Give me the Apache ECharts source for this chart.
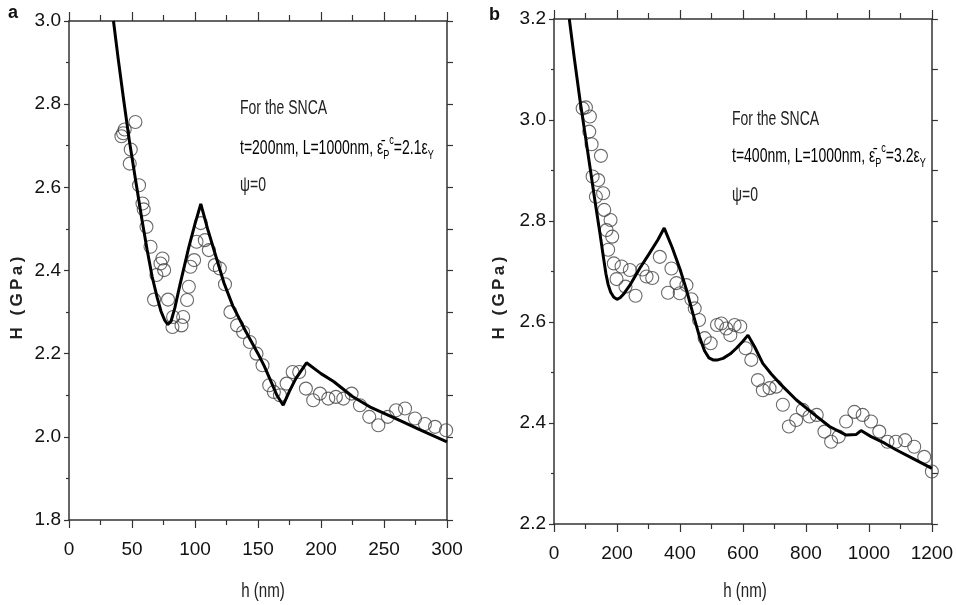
<!DOCTYPE html>
<html><head><meta charset="utf-8">
<script src="https://cdn.jsdelivr.net/npm/echarts@6/dist/echarts.min.js"></script>
<style>html,body{margin:0;padding:0;background:#fff}#c{width:956px;height:605px}</style>
</head><body><div id="c"></div>
<script>
// Panel a: model curve and measured points (h in nm, H in GPa)
const curveA = [[35.3,3.0],[39,2.91],[43.4,2.81],[48,2.71],[53.5,2.605],[58,2.52],[62,2.45],[66,2.385],[70,2.335],[73,2.302],[76,2.28],[78.5,2.27],[81,2.278],[84,2.31],[88,2.365],[95,2.455],[100,2.512],[104.6,2.56],[110,2.50],[115,2.45],[120,2.40],[123,2.37],[130,2.315],[140,2.255],[150,2.20],[155,2.17],[160,2.135],[165,2.10],[170,2.076],[175,2.11],[180,2.14],[188.5,2.178],[200,2.152],[210,2.133],[225,2.097],[240,2.07],[262,2.04],[280,2.015],[300,1.988]];
const pointsA = [[41.6,2.723],[44.2,2.739],[43,2.73],[52.7,2.757],[49,2.691],[48.2,2.657],[55.6,2.605],[58.3,2.561],[59.3,2.547],[61.5,2.505],[64.7,2.457],[74.2,2.429],[72.6,2.417],[69.4,2.389],[75.5,2.401],[67.5,2.33],[78.6,2.33],[82.6,2.288],[82.1,2.264],[89.3,2.268],[90.6,2.288],[93.7,2.329],[95.1,2.361],[96.4,2.409],[99.3,2.425],[101.2,2.469],[104.6,2.514],[107.8,2.473],[111,2.449],[115.7,2.413],[119.7,2.405],[123.8,2.367],[128.1,2.30],[133.4,2.268],[138.2,2.252],[143.5,2.228],[148.8,2.20],[153.6,2.172],[158.9,2.124],[162.6,2.108],[167.4,2.10],[172.7,2.128],[177.5,2.156],[182.7,2.156],[188,2.116],[193.8,2.088],[199.2,2.104],[205.8,2.092],[211.8,2.096],[217.7,2.092],[224.3,2.104],[230.9,2.076],[238.3,2.048],[245.5,2.028],[253,2.048],[259.6,2.064],[266.7,2.068],[274.6,2.044],[282.5,2.031],[290.5,2.024],[299.3,2.016]];
// Panel b
const curveB = [[48.6,3.2],[65,3.12],[82.4,3.04],[98,2.975],[114,2.908],[130,2.84],[145.8,2.776],[157,2.728],[165,2.695],[172,2.674],[180,2.659],[190,2.649],[200,2.645],[210,2.648],[222,2.656],[240,2.672],[272,2.706],[300,2.733],[330,2.763],[350,2.786],[375,2.748],[400,2.705],[420,2.665],[441,2.617],[462,2.571],[478,2.543],[492,2.529],[505,2.525],[520,2.525],[537,2.528],[560,2.537],[579,2.548],[600,2.562],[616,2.574],[637,2.551],[663,2.518],[690,2.497],[716,2.479],[769,2.446],[822,2.419],[875,2.393],[928,2.376],[959,2.377],[975,2.385],[1007,2.373],[1050,2.36],[1086,2.347],[1139,2.33],[1200,2.310]];
const pointsB = [[91,3.023],[101.4,3.025],[114,3.007],[112,2.977],[119.4,2.952],[149,2.929],[122.6,2.888],[140.5,2.881],[133,2.848],[156,2.855],[159.5,2.822],[179.6,2.802],[167,2.782],[184.8,2.769],[172,2.743],[190,2.716],[214.5,2.71],[198.6,2.685],[240.8,2.703],[227,2.67],[259,2.652],[281,2.704],[293.8,2.69],[312,2.687],[335.9,2.729],[373,2.706],[362,2.658],[388.8,2.677],[399.3,2.657],[420.5,2.673],[436.4,2.645],[446.9,2.627],[460.6,2.604],[478.5,2.568],[497.5,2.558],[517.6,2.594],[531.4,2.597],[547.3,2.587],[560,2.574],[573.6,2.594],[591.6,2.591],[608.4,2.548],[626.5,2.525],[647.5,2.485],[663.3,2.465],[684.5,2.469],[705.7,2.472],[726.8,2.436],[745.9,2.393],[769.1,2.406],[790,2.426],[811.3,2.413],[834.4,2.416],[858.8,2.383],[880,2.363],[904,2.373],[927.6,2.403],[953.9,2.422],[980.2,2.416],[1006.8,2.403],[1033,2.383],[1059,2.363],[1085.6,2.363],[1115,2.366],[1144,2.353],[1175.7,2.333],[1200,2.304]];
const labelsA = ['For the SNCA', 't=200nm, L=1000nm, ', '=2.1', 'ψ=0'];
const labelsB = ['For the SNCA', 't=400nm, L=1000nm, ', '=3.2', 'ψ=0'];

const SANS = "'Liberation Sans',Arial,sans-serif";
const AX = '#333';

function xPair(gi, max, interval) {
  const base = {gridIndex: gi, type: 'value', min: 0, max: max, interval: interval,
    axisLine: {show: true, onZero: false, lineStyle: {color: AX, width: 1.5}},
    splitLine: {show: false},
    minorTick: {show: true, splitNumber: 2, length: 5, lineStyle: {color: AX, width: 1.2}},
    axisTick: {show: true, inside: false, length: 8, lineStyle: {color: AX, width: 1.2}}};
  return [
    Object.assign({}, base, {position: 'bottom',
      axisLabel: {show: true, margin: 20, color: '#111', fontSize: 19, fontFamily: SANS,
        formatter: v => String(v)}}),
    Object.assign({}, base, {position: 'top', axisLabel: {show: false},
      axisTick: {show: true, inside: false, length: 9, lineStyle: {color: AX, width: 1.2}},
      minorTick: {show: true, splitNumber: 2, length: 6, lineStyle: {color: AX, width: 1.2}}})
  ];
}
function yPair(gi, min, max, interval) {
  const base = {gridIndex: gi, type: 'value', min: min, max: max, interval: interval,
    axisLine: {show: true, onZero: false, lineStyle: {color: AX, width: 1.5}},
    splitLine: {show: false}};
  return [
    Object.assign({}, base, {position: 'left',
      axisTick: {show: true, inside: false, length: 5, lineStyle: {color: AX, width: 1.2}},
      minorTick: {show: true, splitNumber: 2, length: 3, lineStyle: {color: AX, width: 1.2}},
      axisLabel: {show: true, margin: 8, color: '#111', fontSize: 19, fontFamily: SANS,
        formatter: v => v.toFixed(1)}}),
    Object.assign({}, base, {position: 'right', axisLabel: {show: false},
      axisTick: {show: true, inside: false, length: 6, lineStyle: {color: AX, width: 1.2}},
      minorTick: {show: true, splitNumber: 2, length: 6, lineStyle: {color: AX, width: 1.2}}})
  ];
}

const xAxes = xPair(0, 300, 50).concat(xPair(1, 1200, 200));
const yAxes = yPair(0, 1.8, 3.0, 0.2).concat(yPair(1, 2.2, 3.2, 0.2));

const SQ = 0.7;
function annot(x, ys, L) {
  const f = 20;
  const rich = {
    n: {fontSize: f, fontFamily: SANS, color: '#222', verticalAlign: 'middle', lineHeight: 28},
    s: {fontSize: 13, fontFamily: SANS, color: '#222', verticalAlign: 'bottom', lineHeight: 28},
    u: {fontSize: 13, fontFamily: SANS, color: '#222', verticalAlign: 'top', lineHeight: 28}
  };
  return [
    {type: 'text', x: x, y: ys[0], scaleX: SQ, style: {text: L[0], font: f + 'px ' + SANS, fill: '#222', verticalAlign: 'middle'}},
    {type: 'text', x: x, y: ys[1], scaleX: SQ, style: {text: '{n|' + L[1] + 'ε̄}{s|P}{u|c}{n|' + L[2] + 'ε}{s|Y}', rich: rich, verticalAlign: 'middle'}},
    {type: 'text', x: x, y: ys[2], scaleX: SQ, style: {text: L[3], font: f + 'px ' + SANS, fill: '#222', verticalAlign: 'middle'}}
  ];
}

const yName = 'H\u2009 \u2009(\u2009G\u2009P\u2009a\u2009)';
const graphic = [
  {type: 'text', x: 8, y: 4, style: {text: 'a', font: "bold 18px " + SANS, fill: '#111'}},
  {type: 'text', x: 489, y: 6, style: {text: 'b', font: "bold 18px " + SANS, fill: '#111'}},
  {type: 'text', x: 17, y: 298, rotation: Math.PI / 2, style: {text: yName, font: "bold 17px " + SANS, fill: '#222', align: 'center', verticalAlign: 'middle'}},
  {type: 'text', x: 499, y: 298, rotation: Math.PI / 2, style: {text: yName, font: "bold 17px " + SANS, fill: '#222', align: 'center', verticalAlign: 'middle'}},
  {type: 'text', x: 263, y: 591, scaleX: 0.72, style: {text: 'h (nm)', font: '21px ' + SANS, fill: '#222', align: 'center', verticalAlign: 'middle'}},
  {type: 'text', x: 745, y: 591, scaleX: 0.72, style: {text: 'h (nm)', font: '21px ' + SANS, fill: '#222', align: 'center', verticalAlign: 'middle'}}
].concat(annot(240, [108.5, 148, 185], labelsA)).concat(annot(732, [119.5, 156, 195], labelsB));

const lineStyle = {color: '#000', width: 3};
const scatterStyle = {color: 'transparent', borderColor: '#444', borderWidth: 1.1};

const option = {
  animation: false,
  backgroundColor: '#fff',
  grid: [
    {left: 69, right: 509, top: 21, bottom: 85},
    {left: 554, right: 23, top: 19, bottom: 81}
  ],
  xAxis: xAxes,
  yAxis: yAxes,
  series: [
    {type: 'scatter', xAxisIndex: 0, yAxisIndex: 0, data: pointsA, symbol: 'circle', symbolSize: 13, itemStyle: scatterStyle, z: 2},
    {type: 'line', xAxisIndex: 0, yAxisIndex: 0, data: curveA, showSymbol: false, symbol: 'none', lineStyle: lineStyle, z: 3},
    {type: 'scatter', xAxisIndex: 2, yAxisIndex: 2, data: pointsB, symbol: 'circle', symbolSize: 13, itemStyle: scatterStyle, z: 2},
    {type: 'line', xAxisIndex: 2, yAxisIndex: 2, data: curveB, showSymbol: false, symbol: 'none', lineStyle: lineStyle, z: 3}
  ],
  graphic: graphic
};
const chart = echarts.init(document.getElementById('c'), null, {renderer: 'canvas'});
chart.setOption(option);
</script></body></html>
